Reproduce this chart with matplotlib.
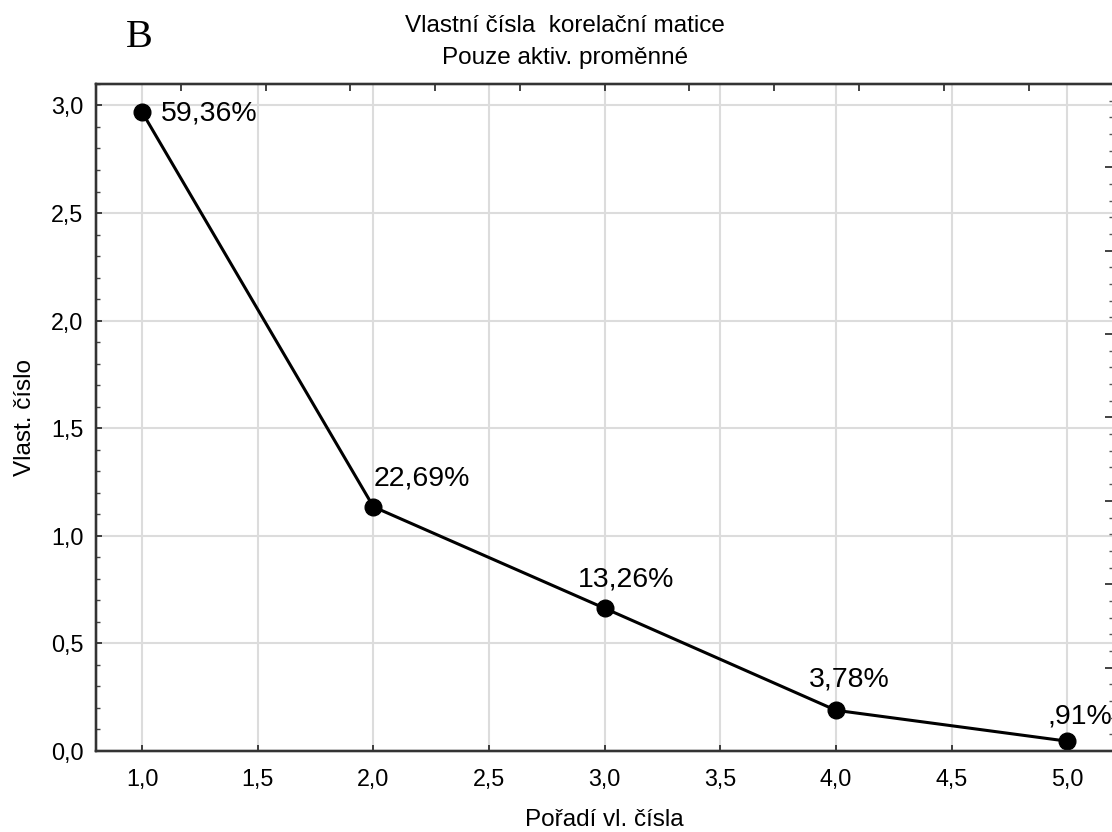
import matplotlib
matplotlib.use("Agg")
import matplotlib.pyplot as plt
from matplotlib.ticker import MultipleLocator, FuncFormatter

# Eigenvalues of the correlation matrix (scree plot)
order = [1, 2, 3, 4, 5]
eigenvalues = [2.968, 1.1345, 0.663, 0.189, 0.0455]
pct_labels = ["59,36%", "22,69%", "13,26%", "3,78%", ",91%"]

title_lines = ["Vlastní čísla  korelační matice", "Pouze aktiv. proměnné"]
xlabel = "Pořadí vl. čísla"
ylabel = "Vlast. číslo"
panel_letter = "B"


def comma_fmt(v, pos):
    return f"{v:.1f}".replace(".", ",")


def main():
    plt.rcParams["font.family"] = ["Liberation Sans", "DejaVu Sans"]

    fig = plt.figure(figsize=(11.12, 8.32), dpi=100)
    ax = fig.add_axes([0.0863, 0.0974, 0.915, 0.8017])

    ax.set_xlim(0.8, 5.2)
    ax.set_ylim(0.0, 3.1)

    # grid
    ax.grid(True, which="major", color="#dcdcdc", linewidth=1.5, zorder=0)
    ax.set_axisbelow(True)

    # data line
    ax.plot(order, eigenvalues, color="black", linewidth=2.2,
            marker="o", markersize=12, zorder=3)

    # percentage labels (offsets in pixels from the point)
    offsets = [(19, -8), (0, 21), (-27, 22), (-27, 24), (-20, 18)]
    for x, y, lab, (dx, dy) in zip(order, eigenvalues, pct_labels, offsets):
        ax.annotate(lab, (x, y), xytext=(dx, dy), textcoords="offset pixels",
                    ha="left", va="baseline", fontsize=20.5, color="black",
                    zorder=4, annotation_clip=False)

    # ticks
    ax.xaxis.set_major_locator(MultipleLocator(0.5))
    ax.yaxis.set_major_locator(MultipleLocator(0.5))
    ax.yaxis.set_minor_locator(MultipleLocator(0.1))
    ax.xaxis.set_major_formatter(FuncFormatter(comma_fmt))
    ax.yaxis.set_major_formatter(FuncFormatter(comma_fmt))
    ax.tick_params(axis="both", which="major", direction="in", length=4,
                   width=1.2, labelsize=16.8, color="#222222")
    ax.tick_params(axis="x", pad=12)
    ax.tick_params(axis="y", pad=9)
    ax.tick_params(axis="y", which="minor", direction="in", length=3,
                   width=1.0, color="#444444")

    for s in ax.spines.values():
        s.set_color("#333333")
        s.set_linewidth(1.6)

    # secondary scale ticks on top and right (no labels)
    axt = ax.twiny()
    axt.set_xlim(0, 12)
    axt.xaxis.set_major_locator(MultipleLocator(1))
    axt.tick_params(axis="x", which="major", direction="in", length=5,
                    width=1.2, labeltop=False, color="#222222")
    axr = ax.twinx()
    axr.set_ylim(0, 8)
    axr.yaxis.set_major_locator(MultipleLocator(1))
    axr.yaxis.set_minor_locator(MultipleLocator(0.2))
    axr.tick_params(axis="y", which="major", direction="in", length=6,
                    width=1.2, labelright=False, color="#222222")
    axr.tick_params(axis="y", which="minor", direction="in", length=3,
                    width=1.0, color="#555555")
    for a in (axt, axr):
        for s in a.spines.values():
            s.set_color("#333333")
            s.set_linewidth(1.6)

    # labels
    ax.set_xlabel(xlabel, fontsize=17.5, labelpad=13)
    ax.set_ylabel(ylabel, fontsize=17.5, labelpad=11)

    fig.text(565 / 1112, 1 - 32 / 832, title_lines[0], ha="center",
             va="baseline", fontsize=17.5)
    fig.text(565 / 1112, 1 - 64 / 832, title_lines[1], ha="center",
             va="baseline", fontsize=17.5)
    fig.text(126 / 1112, 1 - 47 / 832, panel_letter, ha="left",
             va="baseline", fontsize=29, family="Liberation Serif")

    fig.savefig("out.png", dpi=100)


if __name__ == "__main__":
    main()
